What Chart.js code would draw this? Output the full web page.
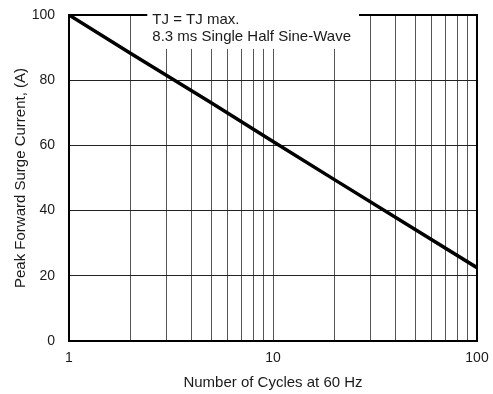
<!DOCTYPE html>
<html><head><meta charset="utf-8">
<script src="https://cdn.jsdelivr.net/npm/chart.js@4"></script>
<style>html,body{margin:0;padding:0;background:#fff}#w{width:493px;height:394px}</style>
</head><body><div id="w"><canvas id="c" width="493" height="394"></canvas></div>
<script>
const cycles = [1, 2, 5, 10, 20, 50, 100];
const surgeCurrent = [100, 88.3, 73, 61.2, 49.5, 34.1, 22.5];
const yTicks = [0, 20, 40, 60, 80, 100];
const xTicks = [1,2,3,4,5,6,7,8,9,10,20,30,40,50,60,70,80,90,100];
const xLabels = [1, 10, 100];
const noteLines = ['TJ = TJ max.', '8.3 ms Single Half Sine-Wave'];
const FONT = 'Liberation Sans, Arial, sans-serif';

const frameNote = {
  id: 'frameNote',
  beforeDatasetsDraw(chart) {
    const {ctx, chartArea: a, scales: {x, y}} = chart;
    ctx.save();
    ctx.strokeStyle = '#000'; ctx.lineWidth = 2;
    ctx.strokeRect(a.left, a.top, a.right - a.left, a.bottom - a.top);
    const bx0 = x.getPixelForValue(2.42), bx1 = x.getPixelForValue(26.4);
    const by1 = y.getPixelForValue(89.6);
    ctx.fillStyle = '#fff';
    ctx.fillRect(bx0, 0, bx1 - bx0, by1);
    ctx.fillStyle = '#1a1a1a';
    ctx.font = '15px ' + FONT;
    ctx.textBaseline = 'middle'; ctx.textAlign = 'left';
    ctx.fillText(noteLines[0], bx0 + 5, a.top + 5);
    ctx.fillText(noteLines[1], bx0 + 5, a.top + 22);
    ctx.restore();
  }
};

new Chart(document.getElementById('c'), {
  type: 'line',
  data: { datasets: [{
    data: cycles.map((c, i) => ({x: c, y: surgeCurrent[i]})),
    borderColor: '#000', borderWidth: 3.5, pointRadius: 0, tension: 0, fill: false
  }]},
  options: {
    responsive: false, animation: false, events: [],
    layout: { padding: {top: 15, right: 16, left: 0, bottom: 0} },
    plugins: { legend: {display: false}, tooltip: {enabled: false} },
    scales: {
      x: {
        type: 'logarithmic', min: 1, max: 100,
        afterBuildTicks(s) { s.ticks = xTicks.map(v => ({value: v})); },
        afterFit(s) { s.height = 394 - 341; s.paddingLeft = 0; s.paddingRight = 0; },
        ticks: { autoSkip: false, maxRotation: 0, padding: 9, color: '#1a1a1a', font: {family: FONT, size: 14},
          callback: v => xLabels.includes(v) ? String(v) : '' },
        grid: { color: '#555', lineWidth: 1, drawTicks: false },
        border: { color: '#000', width: 2 },
        title: { display: true, text: 'Number of Cycles at 60 Hz', color: '#1a1a1a', font: {family: FONT, size: 15}, padding: {top: 3, bottom: 2} }
      },
      y: {
        min: 0, max: 100,
        afterBuildTicks(s) { s.ticks = yTicks.map(v => ({value: v})); },
        afterFit(s) { s.width = 69; s.paddingTop = 0; s.paddingBottom = 0; },
        ticks: { padding: 14, color: '#1a1a1a', font: {family: FONT, size: 14} },
        grid: { color: '#222', lineWidth: 1, drawTicks: false },
        border: { color: '#000', width: 2 },
        title: { display: true, text: 'Peak Forward Surge Current, (A)', color: '#1a1a1a', font: {family: FONT, size: 15}, padding: {top: 12, bottom: 4} }
      }
    }
  },
  plugins: [frameNote]
});
</script></body></html>
